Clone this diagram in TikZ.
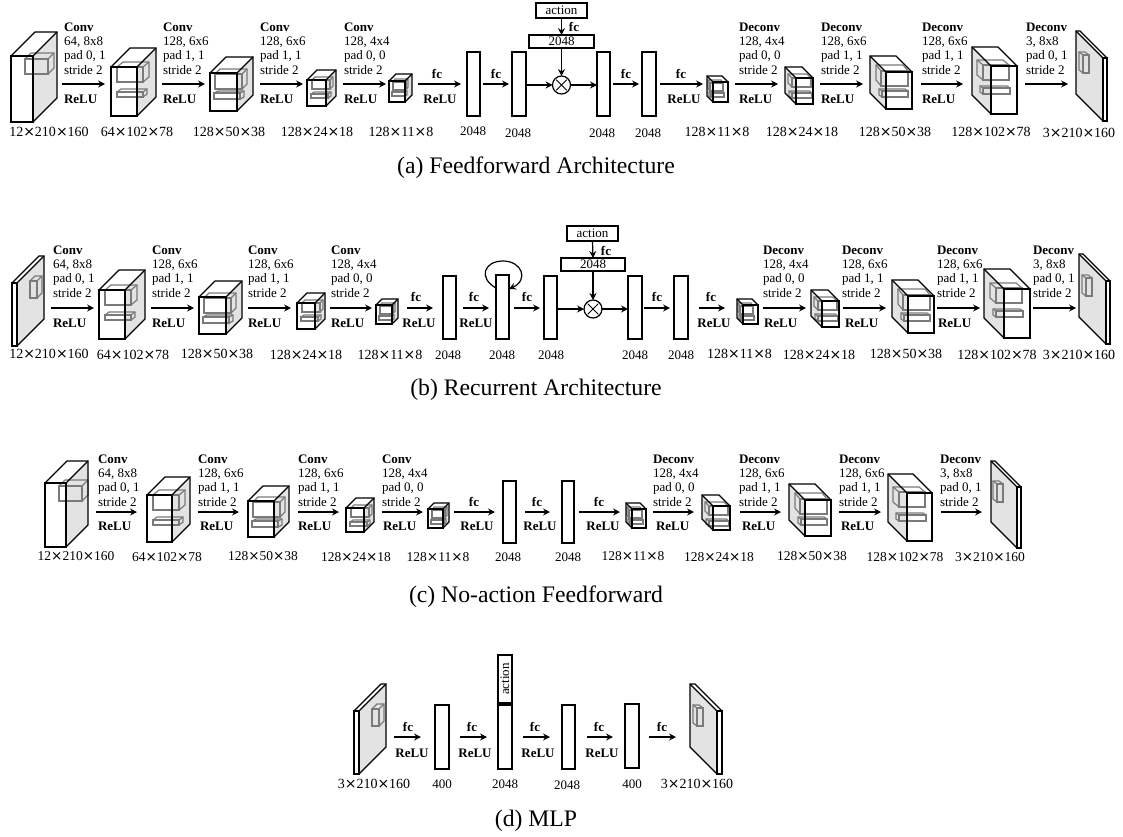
\documentclass[tikz,border=0pt]{standalone}
\usepackage{fontspec}
\setmainfont{Liberation Serif}
\newfontfamily\dvfont{DejaVu Sans}
\usetikzlibrary{arrows.meta,calc}
\newcounter{lbl}
\tikzset{
  every picture/.style={x=1pt,y=-1pt},
  txt/.style={inner sep=0pt,outer sep=0pt,font=\fontsize{13}{15}\selectfont},
  captxt/.style={inner sep=0pt,outer sep=0pt,font=\fontsize{23.7}{27}\selectfont},
  hit/.style={inner sep=0pt,outer sep=0pt,draw=none},
  blk/.style={draw=black,line width=1.15pt,line join=miter},
  inr/.style={draw=innergray,line width=1.2pt},
  sidefill/.style={fill=sidegray},
  arr/.style={draw=black,line width=1.2pt,-{Stealth[length=7pt,width=7pt,inset=2.5pt]}},
  fcbox/.style={draw=black,fill=white,line width=1.2pt,inner sep=0pt,outer sep=0pt,anchor=north west},
  tbox/.style={draw=black,fill=white,line width=1.2pt,inner sep=0pt,outer sep=0pt,font=\fontsize{13}{15}\selectfont},
  circ/.style={circle,draw=black,fill=white,line width=1.2pt,minimum size=18pt,inner sep=0pt,outer sep=0pt},
}
\definecolor{innergray}{HTML}{7A7A7A}
\definecolor{sidegray}{HTML}{E3E3E3}
\newcommand\X{{\dvfont ×}}
% inner outlines: encoder and decoder orientation
\newcommand\ibe[6]{\draw[inr] (#1,#2) rectangle ({#1+#3},{#2+#4});
  \draw[inr] (#1,#2) -- ({#1+#5},{#2-#6}) -- ({#1+#3+#5},{#2-#6}) -- ({#1+#3+#5},{#2+#4-#6}) -- ({#1+#3},{#2+#4});
  \draw[inr] ({#1+#3},#2) -- ({#1+#3+#5},{#2-#6});}
\newcommand\ibd[6]{\draw[inr] (#1,#2) rectangle ({#1+#3},{#2+#4});
  \draw[inr] ({#1+#3},#2) -- ({#1+#3-#5},{#2-#6}) -- ({#1-#5},{#2-#6}) -- ({#1-#5},{#2+#4-#6}) -- (#1,{#2+#4});
  \draw[inr] (#1,#2) -- ({#1-#5},{#2-#6});}
% name,x,y,w,h,d,inner
\newcommand\enccube[7]{%
  \node[hit,anchor=north west,minimum width={(#4+#6)*1pt},minimum height={(#5+#6)*1pt}] (#1) at (#2,{#3-#6}) {};
  \begin{scope}[shift={(#2,#3)}]
    \fill[sidefill] (#4,0) -- ({#4+#6},{-#6}) -- ({#4+#6},{#5-#6}) -- (#4,#5) -- cycle;
    \fill[white] (0,0) rectangle (#4,#5);
    #7
    \draw[blk] (0,0) rectangle (#4,#5);
    \draw[blk] (0,0) -- (#6,{-#6}) -- ({#4+#6},{-#6}) -- ({#4+#6},{#5-#6}) -- (#4,#5);
    \draw[blk] (#4,0) -- ({#4+#6},{-#6});
  \end{scope}}
\newcommand\deccube[7]{%
  \node[hit,anchor=north west,minimum width={(#4+#6)*1pt},minimum height={(#5+#6)*1pt}] (#1) at ({#2-#6},{#3-#6}) {};
  \begin{scope}[shift={(#2,#3)}]
    \fill[sidefill] (0,0) -- ({-#6},{-#6}) -- ({-#6},{#5-#6}) -- (0,#5) -- cycle;
    \fill[white] (0,0) rectangle (#4,#5);
    #7
    \draw[blk] (0,0) rectangle (#4,#5);
    \draw[blk] (#4,0) -- ({#4-#6},{-#6}) -- ({-#6},{-#6}) -- ({-#6},{#5-#6}) -- (0,#5);
    \draw[blk] (0,0) -- ({-#6},{-#6});
  \end{scope}}
\newcommand\EA[6]{\enccube{#1}{#2}{#3}{#4}{#5}{#6}{\ibe{14}{3}{23}{15}{6}{6}}}
\newcommand\EB[6]{\enccube{#1}{#2}{#3}{#4}{#5}{#6}{\ibe{6}{0}{26}{15}{6}{5}\ibe{6}{25}{26}{5}{4}{3}}}
\newcommand\EC[6]{\enccube{#1}{#2}{#3}{#4}{#5}{#6}{\ibe{5}{1}{27}{15}{5}{5}\ibe{4}{20}{26}{6}{4}{2}}}
\newcommand\ED[6]{\enccube{#1}{#2}{#3}{#4}{#5}{#6}{\ibe{5}{0}{18}{9}{3}{3}\ibe{4}{14}{17}{4}{3}{2}}}
\newcommand\EE[6]{\enccube{#1}{#2}{#3}{#4}{#5}{#6}{\ibe{4}{1}{13}{8}{2}{3}\ibe{3}{11}{13}{4}{2}{1}}}
\newcommand\DE[6]{\deccube{#1}{#2}{#3}{#4}{#5}{#6}{\ibd{-3}{1}{13}{8}{2}{3}\ibd{-2}{11}{13}{4}{2}{1}}}
\newcommand\DD[6]{\deccube{#1}{#2}{#3}{#4}{#5}{#6}{\ibd{-4}{0}{19}{9}{4}{4}\ibd{-4}{15}{20}{5}{3}{2}}}
\newcommand\DC[6]{\deccube{#1}{#2}{#3}{#4}{#5}{#6}{\ibd{-5}{-1}{27}{15}{5}{6}\ibd{-4}{19}{26}{6}{3}{2}}}
\newcommand\DB[6]{\deccube{#1}{#2}{#3}{#4}{#5}{#6}{\ibd{-8}{-1}{26}{15}{6}{5}\ibd{-8}{22}{27}{6}{3}{2}}}
\newcommand\PE[6]{\enccube{#1}{#2}{#3}{#4}{#5}{#6}{\ibe{18}{-2}{7}{17}{5}{5}}}
\newcommand\PD[6]{\deccube{#1}{#2}{#3}{#4}{#5}{#6}{\ibd{-20}{-3}{6}{18}{4}{3}}}
\newcommand\fcb[5]{\node[fcbox,minimum width=#4pt,minimum height=#5pt] (#1) at (#2,#3) {};}
% a→b at height y, with gaps
\newcommand\link[5]{\draw[arr] ($(#1.east |- 0,#3)+(#4,0)$) -- ($(#2.west |- 0,#3)-(#5,0)$);}
\newcommand\tl[3]{\stepcounter{lbl}\node[txt,anchor=base west] (t\arabic{lbl}) at (#1,{#2+4}) {#3};}
\newcommand\tc[3]{\stepcounter{lbl}\node[txt,anchor=base] (t\arabic{lbl}) at (#1,{#2+4}) {#3};}
\newcommand\stack[5]{\tl{#1}{#2}{\textbf{#3}}\tl{#1}{(#2+14)}{#4}\tl{#1}{(#2+28)}{#5}\tl{#1}{(#2+43)}{stride 2}}
\newcommand\rl[2]{\tl{#1}{#2}{\textbf{ReLU}}}
\newcommand\rc[2]{\tc{#1}{#2}{\textbf{ReLU}}}
\newcommand\fcl[2]{\tc{#1}{#2}{\textbf{fc}}}
\newcommand\dmsize{14}
\newcommand\dm[5]{\tc{#1}{#2}{\fontsize{\dmsize}{16}\selectfont #3\X#4\X#5}}
\newcommand\capt[4]{\node[captxt,anchor=base] (#1) at (#2,#3) {#4};}
\begin{document}
\begin{tikzpicture}
\useasboundingbox (0,0) rectangle (1123,836);
\fill[white] (0,0) rectangle (1123,836);
%%%%%%%%%% row a
\EA{a1}{11}{56}{22}{66}{24}
\EB{a2}{111}{67}{26}{49}{19}
\EC{a3}{210}{73}{27}{38}{16}
\ED{a4}{307}{80}{19}{26}{10}
\EE{a5}{389}{81}{16}{21}{7}
\fcb{a6}{467}{52}{13}{64}
\fcb{a7}{512}{52}{14}{64}
\fcb{a8}{597}{52}{13}{64}
\fcb{a9}{642}{52}{14}{64}
\DE{a10}{713}{82}{15}{20}{6}
\DD{a11}{796}{78}{17}{26}{11}
\DC{a12}{886}{72}{26}{37}{16}
\DB{a13}{991}{66}{26}{48}{19}
\PD{a14}{1103}{58}{4}{63}{27}
\node[tbox,minimum width=51pt,minimum height=15pt] (aact) at (561.5,10.5) {action};
\node[tbox,minimum width=65pt,minimum height=13pt] (abox) at (561.5,41.5) {2048};
\node[circ] (ax) at (561.5,85) {};
\draw[black,line width=1pt,shorten <=1.5pt,shorten >=1.5pt] (ax.north east) -- (ax.south west);
\draw[black,line width=1pt,shorten <=1.5pt,shorten >=1.5pt] (ax.north west) -- (ax.south east);
\draw[arr] (aact.south) -- (abox.north);
\draw[arr] (abox.south) -- (ax.north);
\draw[arr] (a7.east |- ax) -- (ax.west);
\draw[arr] (ax.east) -- (a8.west |- ax);
\link{a1}{a2}{84}{5}{6}
\link{a2}{a3}{84}{6}{5}
\link{a3}{a4}{84}{7}{4}
\link{a4}{a5}{84}{7}{3}
\link{a5}{a6}{84}{6}{6}
\link{a6}{a7}{84}{3}{3}
\link{a8}{a9}{84}{3}{3}
\link{a9}{a10}{84}{4}{4}
\link{a10}{a11}{84}{7}{7}
\link{a11}{a12}{84}{7}{7}
\link{a12}{a13}{84}{9}{9}
\link{a13}{a14}{84}{8}{8}
\stack{64}{27}{Conv}{64, 8x8}{pad 0, 1}
\stack{163}{27}{Conv}{128, 6x6}{pad 1, 1}
\stack{260}{27}{Conv}{128, 6x6}{pad 1, 1}
\stack{344}{27}{Conv}{128, 4x4}{pad 0, 0}
\stack{739}{27}{Deconv}{128, 4x4}{pad 0, 0}
\stack{821}{27}{Deconv}{128, 6x6}{pad 1, 1}
\stack{922}{27}{Deconv}{128, 6x6}{pad 1, 1}
\stack{1026}{27}{Deconv}{3, 8x8}{pad 0, 1}
\rl{64}{99}\rl{163}{99}\rl{260}{99}\rl{344}{99}
\rl{739}{99}\rl{821}{99}\rl{922}{99}
\fcl{437}{74}\rc{440}{99}\fcl{496}{74}\fcl{574}{27}\fcl{626}{74}\fcl{681}{74}\rc{684}{99}
\dm{49}{132}{12}{210}{160}
\dm{137}{132}{64}{102}{78}
\dm{229}{132}{128}{50}{38}
\dm{317}{132}{128}{24}{18}
\dm{401}{132}{128}{11}{8}
\tc{473}{131}{2048}\tc{518}{133}{2048}\tc{602}{133}{2048}\tc{648}{133}{2048}
\dm{717}{132}{128}{11}{8}
\dm{802}{132}{128}{24}{18}
\dm{895}{132}{128}{50}{38}
\dm{991}{132}{128}{102}{78}
\dm{1079}{133}{3}{210}{160}
\capt{capa}{536}{173}{(a) Feedforward Architecture}
%%%%%%%%%% row b
\PE{b1}{12}{283}{5}{63}{27}
\EB{b2}{99}{290}{26}{49}{20}
\EC{b3}{199}{297}{27}{37}{16}
\ED{b4}{297}{303}{18}{26}{10}
\EE{b5}{376}{305}{16}{19}{6}
\fcb{b6}{443}{276}{13}{63}
\fcb{b7}{496}{275}{13}{64}
\fcb{b8}{544}{276}{13}{63}
\fcb{b9}{628}{276}{14}{63}
\fcb{b10}{674}{276}{14}{63}
\DE{b11}{743}{305}{15}{19}{6}
\DD{b12}{822}{301}{17}{26}{11}
\DC{b13}{908}{296}{26}{37}{16}
\DB{b14}{1004}{289}{26}{49}{20}
\PD{b15}{1106}{281}{4}{63}{27}
\node[tbox,minimum width=51pt,minimum height=15pt] (bact) at (592.5,233.5) {action};
\node[tbox,minimum width=64pt,minimum height=13pt] (bbox) at (593,264.5) {2048};
\node[circ] (bx) at (593,309) {};
\draw[black,line width=1pt,shorten <=1.5pt,shorten >=1.5pt] (bx.north east) -- (bx.south west);
\draw[black,line width=1pt,shorten <=1.5pt,shorten >=1.5pt] (bx.north west) -- (bx.south east);
\draw[arr] (bact.south) -- (bbox.north);
\draw[arr] (bbox.south) -- (bx.north);
\draw[arr] (b8.east |- bx) -- (bx.west);
\draw[arr] (bx.east) -- (b9.west |- bx);
\coordinate (bla) at (b7.west |- 0,288);
\coordinate (blb) at (b7.east |- 0,289);
\draw[arr] (bla) .. controls (478,278) and (484,261) .. (503,261) .. controls (522,261) and (529,280) .. (blb);
\link{b1}{b2}{308}{7}{5}
\link{b2}{b3}{308}{6}{5}
\link{b3}{b4}{308}{6}{6}
\link{b4}{b5}{308}{5}{4}
\link{b5}{b6}{308}{9}{10}
\link{b6}{b7}{308}{7}{7}
\link{b7}{b8}{308}{5}{4}
\link{b9}{b10}{308}{2}{4}
\link{b10}{b11}{308}{11}{12}
\link{b11}{b12}{308}{5}{5}
\link{b12}{b13}{308}{4}{6}
\link{b13}{b14}{308}{3}{4}
\link{b14}{b15}{308}{3}{3}
\stack{53}{250}{Conv}{64, 8x8}{pad 0, 1}
\stack{152}{250}{Conv}{128, 6x6}{pad 1, 1}
\stack{248}{250}{Conv}{128, 6x6}{pad 1, 1}
\stack{331}{250}{Conv}{128, 4x4}{pad 0, 0}
\stack{763}{250}{Deconv}{128, 4x4}{pad 0, 0}
\stack{842}{250}{Deconv}{128, 6x6}{pad 1, 1}
\stack{937}{250}{Deconv}{128, 6x6}{pad 1, 1}
\stack{1033}{250}{Deconv}{3, 8x8}{pad 0, 1}
\rl{53}{323}\rl{152}{323}\rl{248}{323}\rl{331}{323}
\rl{764}{323}\rl{845}{323}\rl{938}{323}
\fcl{416}{297}\rc{419}{323}\fcl{474}{297}\rc{476}{323}\fcl{527}{297}
\fcl{606}{251}\fcl{657}{297}\fcl{711}{297}\rc{714}{323}
\dm{49}{354}{12}{210}{160}
\dm{133}{355}{64}{102}{78}
\dm{217}{354}{128}{50}{38}
\dm{306}{355}{128}{24}{18}
\dm{390}{355}{128}{11}{8}
\tc{448}{355}{2048}\tc{502}{355}{2048}\tc{551}{355}{2048}\tc{635}{355}{2048}\tc{681}{355}{2048}
\dm{739.5}{354}{128}{11}{8}
\dm{819}{355}{128}{24}{18}
\dm{906}{354}{128}{50}{38}
\dm{997}{355}{128}{102}{78}
\dm{1079}{355}{3}{210}{160}
\capt{capb}{536}{395}{(b) Recurrent Architecture}
%%%%%%%%%% row c
\EA{c1}{45}{483}{21}{64}{22}
\EB{c2}{147}{495}{25}{47}{18}
\EC{c3}{248}{501}{26}{36}{15}
\ED{c4}{346}{508}{18}{24}{10}
\EE{c5}{428}{509}{15}{19}{6}
\fcb{c6}{503}{481}{13}{62}
\fcb{c7}{562}{481}{12}{62}
\DE{c8}{632}{509}{14}{19}{6}
\DD{c9}{713}{506}{17}{24}{11}
\DC{c10}{805}{500}{26}{36}{16}
\DB{c11}{907}{493}{25}{48}{19}
\PD{c12}{1017}{487}{4}{61}{26}
\link{c1}{c2}{512}{8}{10}
\link{c2}{c3}{512}{8}{9}
\link{c3}{c4}{512}{9}{7}
\link{c4}{c5}{512}{8}{5}
\link{c5}{c6}{512}{5}{8}
\link{c6}{c7}{512}{9}{12}
\link{c7}{c8}{512}{5}{6}
\link{c8}{c9}{512}{7}{8}
\link{c9}{c10}{512}{10}{8}
\link{c10}{c11}{512}{8}{7}
\link{c11}{c12}{512}{9}{9}
\stack{98}{459}{Conv}{64, 8x8}{pad 0, 1}
\stack{198}{459}{Conv}{128, 6x6}{pad 1, 1}
\stack{298}{459}{Conv}{128, 6x6}{pad 1, 1}
\stack{382}{459}{Conv}{128, 4x4}{pad 0, 0}
\stack{653}{459}{Deconv}{128, 4x4}{pad 0, 0}
\stack{739}{459}{Deconv}{128, 6x6}{pad 1, 1}
\stack{839}{459}{Deconv}{128, 6x6}{pad 1, 1}
\stack{940}{459}{Deconv}{3, 8x8}{pad 0, 1}
\rl{98}{526}\rl{200}{526}\rl{298}{526}\rl{383}{526}
\rl{656}{526}\rl{742}{526}\rl{841}{526}
\fcl{474}{502}\rc{477}{526}\fcl{537}{502}\rc{540}{526}\fcl{599}{502}\rc{603}{526}
\renewcommand\dmsize{13.5}
\dm{76}{556}{12}{210}{160}
\dm{167}{557}{64}{102}{78}
\dm{263}{556}{128}{50}{38}
\dm{356}{557}{128}{24}{18}
\dm{438}{557}{128}{11}{8}
\tc{508}{557}{2048}\tc{568}{557}{2048}
\dm{633}{556}{128}{11}{8}
\dm{719}{557}{128}{24}{18}
\dm{812}{556}{128}{50}{38}
\dm{905}{557}{128}{102}{78}
\dm{990}{557}{3}{210}{160}
\capt{capc}{536}{602}{(c) No-action Feedforward}
%%%%%%%%%% row d
\PE{d1}{354}{711}{5}{63}{27}
\fcb{d2}{435}{705}{14}{64}
\fcb{d3}{498}{705}{14}{64}
\fcb{d4}{562}{705}{13}{64}
\fcb{d5}{625}{704}{14}{64}
\node[tbox,minimum width=14pt,minimum height=48pt] (dact) at (505,679) {\rotatebox{90}{action}};
\PD{d7}{717}{711}{5}{63}{27}
\link{d1}{d2}{737}{8}{14}
\link{d2}{d3}{737}{11}{11}
\link{d3}{d4}{737}{11}{12}
\link{d4}{d5}{737}{12}{12}
\link{d5}{d7}{737}{10}{14}
\fcl{408}{727}\fcl{472}{727}\fcl{535}{727}\fcl{599}{727}\fcl{662}{727}
\rc{412}{753}\rc{475}{753}\rc{538}{753}\rc{602}{753}
\renewcommand\dmsize{14}
\dm{374}{784}{3}{210}{160}
\tc{442}{784}{400}\tc{505}{784}{2048}\tc{567}{785}{2048}\tc{632}{784}{400}
\dm{697}{784}{3}{210}{160}
\capt{capd}{536}{826}{(d) MLP}
\end{tikzpicture}
\end{document}
